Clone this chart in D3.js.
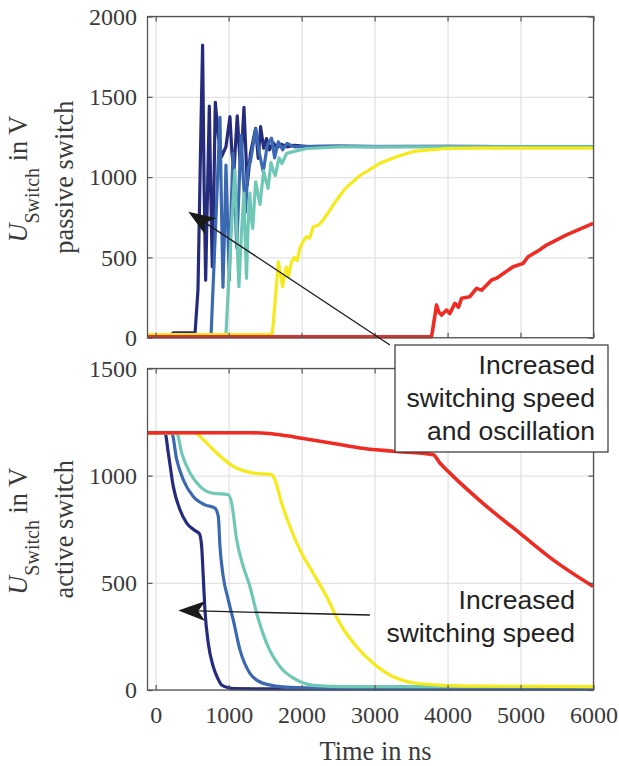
<!DOCTYPE html>
<html>
<head>
<meta charset="utf-8">
<script src="https://cdn.jsdelivr.net/npm/d3@7"></script>
<style>
  html, body { margin: 0; padding: 0; background: #fff; }
  .tick text { font-family: "Liberation Serif", "Times New Roman", serif; font-size: 24px; fill: #3a3a3a; }
  .grid line { stroke: #e3e3e3; stroke-width: 1.3; }
  .grid path { display: none; }
  .ticks path { display: none; }
  .ticks line { stroke: #555; stroke-width: 1.2; }
</style>
</head>
<body>
<div id="chart-container"></div>
<script>
// data: [time in ns, voltage in V]
const timeTicks = [0, 1000, 2000, 3000, 4000, 5000, 6000];
const passiveTicks = [0, 500, 1000, 1500, 2000];
const activeTicks = [0, 500, 1000, 1500];
const seriesColors = ["#252c7e", "#3a69b2", "#6fc8b6", "#f6ea1a", "#ee2c24"];

const passiveNavy = [[-112,12],[200,15],[240,30],[540,32],[580,300],[620,1300],[643,1822],[665,900],[685,358],[710,900],[735,1442],[755,900],[776,442],[797,900],[817,1466],[860,1250],[904,1127],[963,1189],[1018,1376],[1045,1150],[1073,1044],[1118,1382],[1164,1044],[1210,1435],[1255,951],[1300,1150],[1370,1304],[1406,1117],[1438,1314],[1480,1180],[1520,1240],[1560,1170],[1610,1215],[1660,1180],[1720,1205],[1800,1188],[1900,1198],[2100,1190],[2500,1193],[3000,1190],[4000,1192],[5000,1190],[6000,1190]];
const passiveBlue = [[-112,12],[700,15],[760,25],[840,900],[881,1372],[902,800],[922,314],[945,700],[963,1075],[987,700],[1009,359],[1035,800],[1060,1150],[1085,900],[1110,560],[1140,900],[1170,1260],[1200,1000],[1230,780],[1265,1050],[1300,1100],[1370,1300],[1420,1150],[1474,1034],[1530,1200],[1589,1242],[1630,1120],[1680,1220],[1740,1170],[1800,1210],[1900,1188],[2200,1192],[6000,1190]];
const passiveTeal = [[-112,12],[900,15],[963,20],[1040,700],[1086,1044],[1115,600],[1141,318],[1175,650],[1210,900],[1228,600],[1245,370],[1262,650],[1290,900],[1310,750],[1330,680],[1370,970],[1400,900],[1430,830],[1480,1040],[1510,980],[1540,930],[1580,1090],[1610,1040],[1640,1010],[1690,1120],[1730,1085],[1795,1148],[1900,1160],[2068,1178],[2500,1188],[6000,1188]];
const passiveYellow = [[-112,20],[1560,20],[1600,30],[1650,300],[1680,473],[1710,400],[1740,318],[1770,400],[1790,440],[1820,380],[1860,470],[1900,500],[1940,480],[1977,558],[2020,600],[2068,629],[2110,620],[2160,691],[2230,700],[2296,733],[2380,790],[2479,857],[2600,930],[2800,1010],[3073,1086],[3301,1127],[3530,1160],[3986,1178],[4500,1180],[6000,1180]];
const passiveRed = [[-112,6],[3781,6],[3800,60],[3849,204],[3880,160],[3918,141],[3986,172],[4030,150],[4100,214],[4150,190],[4192,245],[4305,255],[4397,307],[4466,296],[4603,359],[4671,370],[4899,442],[5036,463],[5104,504],[5260,546],[5356,577],[5630,640],[5995,712]];

const activeNavy = [[-112,1200],[127,1200],[173,1106],[241,950],[333,841],[425,779],[538,744],[600,728],[630,670],[652,530],[675,374],[721,218],[789,109],[850,55],[904,23],[1000,10],[1070,6],[2000,5],[6000,5]];
const activeBlue = [[-112,1200],[219,1200],[288,1075],[378,981],[515,903],[675,864],[812,849],[858,810],[881,670],[926,529],[995,421],[1063,327],[1155,187],[1292,78],[1474,31],[1840,12],[2500,8],[6000,8]];
const activeTeal = [[-112,1200],[288,1200],[356,1106],[470,1013],[607,950],[767,919],[995,911],[1041,872],[1110,701],[1200,576],[1292,483],[1384,358],[1521,218],[1703,109],[1932,47],[2159,22],[2600,16],[6000,16]];
const activeYellow = [[-112,1200],[538,1200],[652,1168],[836,1106],[1063,1043],[1337,1012],[1589,1005],[1634,981],[1726,872],[1840,763],[1977,654],[2159,545],[2342,436],[2523,312],[2753,202],[2981,125],[3255,62],[3529,34],[3895,23],[4500,18],[6000,16]];
const activeRed = [[-112,1200],[1300,1200],[1550,1197],[1800,1186],[1977,1176],[2523,1145],[2798,1129],[3255,1114],[3803,1098],[3895,1059],[4032,1012],[4534,857],[4990,732],[5447,607],[5995,483]];

const passiveSeries = [passiveNavy, passiveBlue, passiveTeal, passiveYellow, passiveRed];
const activeSeries = [activeNavy, activeBlue, activeTeal, activeYellow, activeRed];

// annotation anchors in data units
const arrowPassive = { from: [3210, -45], to: [447, 785] };
const arrowActive = { from: [2936, 350], to: [310, 371] };

const W = 619, H = 766;
const left = 147.5, right = 593.5;

const svg = d3
  .select("#chart-container")
  .append("svg")
  .attr("width", W)
  .attr("height", H);

const x = d3.scaleLinear().domain([-112, 6000]).range([left, right]);

const yTop = renderPanel({
  id: "passive",
  top: 16.5,
  bottom: 337.7,
  yMax: 2000,
  yTicks: passiveTicks,
  series: passiveSeries,
  curve: d3.curveLinear,
  showX: false,
  label: "passive switch",
});

const yBottom = renderPanel({
  id: "active",
  top: 368.5,
  bottom: 690,
  yMax: 1500,
  yTicks: activeTicks,
  series: activeSeries,
  curve: d3.curveMonotoneX,
  showX: true,
  label: "active switch",
});

// x axis title
svg
  .append("text")
  .attr("x", (left + right) / 2 + 5)
  .attr("y", 760)
  .attr("text-anchor", "middle")
  .style("font-family", "'Liberation Serif', 'Times New Roman', serif")
  .style("font-size", "26.4px")
  .style("fill", "#3a3a3a")
  .text("Time in ns");

// annotations
renderArrow(yTop, arrowPassive);
renderArrow(yBottom, arrowActive);

const box = svg.append("g");
box
  .append("rect")
  .attr("x", 395)
  .attr("y", 345)
  .attr("width", 213)
  .attr("height", 107)
  .attr("fill", "#fff")
  .attr("stroke", "#333")
  .attr("stroke-width", 1.2);
renderNote(box, 595, [374, 407, 440], ["Increased", "switching speed", "and oscillation"]);
renderNote(svg, 575, [609, 642], ["Increased", "switching speed"]);

function renderPanel(p) {
  const y = d3.scaleLinear().domain([0, p.yMax]).range([p.bottom, p.top]);
  const h = p.bottom - p.top;
  const g = svg.append("g").attr("id", p.id);

  // grid
  g.append("g")
    .attr("class", "grid")
    .attr("transform", `translate(0, ${p.bottom})`)
    .call(d3.axisBottom(x).tickValues(timeTicks).tickSize(-h).tickFormat(""));
  g.append("g")
    .attr("class", "grid")
    .attr("transform", `translate(${left}, 0)`)
    .call(d3.axisLeft(y).tickValues(p.yTicks).tickSize(-(right - left)).tickFormat(""));

  // curves
  g.append("clipPath")
    .attr("id", "clip-" + p.id)
    .append("rect")
    .attr("x", left)
    .attr("y", p.top)
    .attr("width", right - left)
    .attr("height", h + 2);

  const line = d3
    .line()
    .curve(p.curve)
    .x((d) => x(d[0]))
    .y((d) => y(d[1]));

  g.append("g")
    .attr("clip-path", `url(#clip-${p.id})`)
    .selectAll("path")
    .data(p.series)
    .enter()
    .append("path")
    .attr("d", line)
    .attr("fill", "none")
    .attr("stroke", (d, i) => seriesColors[i])
    .attr("stroke-width", (d, i) => (i === 4 ? 3.6 : 3.2))
    .attr("stroke-linejoin", "round");

  // inward ticks on all four sides
  g.append("g")
    .attr("class", "ticks")
    .attr("transform", `translate(0, ${p.bottom})`)
    .call(
      d3.axisBottom(x).tickValues(timeTicks).tickSize(-5).tickPadding(16)
        .tickFormat(p.showX ? d3.format("d") : "")
    );
  g.append("g")
    .attr("class", "ticks")
    .attr("transform", `translate(0, ${p.top})`)
    .call(d3.axisTop(x).tickValues(timeTicks).tickSize(-5).tickFormat(""));
  g.append("g")
    .attr("class", "ticks")
    .attr("transform", `translate(${left}, 0)`)
    .call(d3.axisLeft(y).tickValues(p.yTicks).tickSize(-5).tickPadding(10.5).tickFormat(d3.format("d")));
  g.append("g")
    .attr("class", "ticks")
    .attr("transform", `translate(${right}, 0)`)
    .call(d3.axisRight(y).tickValues(p.yTicks).tickSize(-5).tickFormat(""));

  g.append("rect")
    .attr("x", left)
    .attr("y", p.top)
    .attr("width", right - left)
    .attr("height", h)
    .attr("fill", "none")
    .attr("stroke", "#555")
    .attr("stroke-width", 1.3);

  // y title, two lines
  const cy = (p.top + p.bottom) / 2;
  const t = g
    .append("text")
    .attr("transform", `translate(27, ${cy + 2}) rotate(-90)`)
    .attr("text-anchor", "middle")
    .style("font-family", "'Liberation Serif', 'Times New Roman', serif")
    .style("font-size", "26.4px")
    .style("fill", "#3a3a3a");
  t.append("tspan").style("font-style", "italic").text("U");
  t.append("tspan").attr("dy", 12).style("font-size", "20px").text("Switch");
  t.append("tspan").attr("dy", -12).text(" in V");
  g.append("text")
    .attr("transform", `translate(73, ${cy}) rotate(-90)`)
    .attr("text-anchor", "middle")
    .style("font-family", "'Liberation Serif', 'Times New Roman', serif")
    .style("font-size", "26.4px")
    .style("fill", "#3a3a3a")
    .text(p.label);

  return y;
}

function renderArrow(y, a) {
  const [x0, y0] = [x(a.from[0]), y(a.from[1])];
  const [x1, y1] = [x(a.to[0]), y(a.to[1])];
  const ang = Math.atan2(y1 - y0, x1 - x0);
  const len = 27, notch = 20, half = 10;
  const ux = Math.cos(ang), uy = Math.sin(ang);
  const bx = x1 - ux * len, by = y1 - uy * len;

  svg
    .append("line")
    .attr("x1", x0)
    .attr("y1", y0)
    .attr("x2", x1 - ux * notch)
    .attr("y2", y1 - uy * notch)
    .attr("stroke", "#1a1a1a")
    .attr("stroke-width", 1.3);

  const pts = [
    [x1, y1],
    [bx - uy * half, by + ux * half],
    [x1 - ux * notch, y1 - uy * notch],
    [bx + uy * half, by - ux * half],
  ];
  svg
    .append("path")
    .attr("d", "M" + pts.map((q) => q.join(",")).join("L") + "Z")
    .attr("fill", "#1a1a1a");
}

function renderNote(parent, xr, baselines, lines) {
  parent
    .selectAll(null)
    .data(lines)
    .enter()
    .append("text")
    .attr("x", xr)
    .attr("y", (d, i) => baselines[i])
    .attr("text-anchor", "end")
    .style("font-family", "'Liberation Sans', Arial, sans-serif")
    .style("font-size", "26.5px")
    .style("fill", "#222")
    .text((d) => d);
}
</script>
</body>
</html>
